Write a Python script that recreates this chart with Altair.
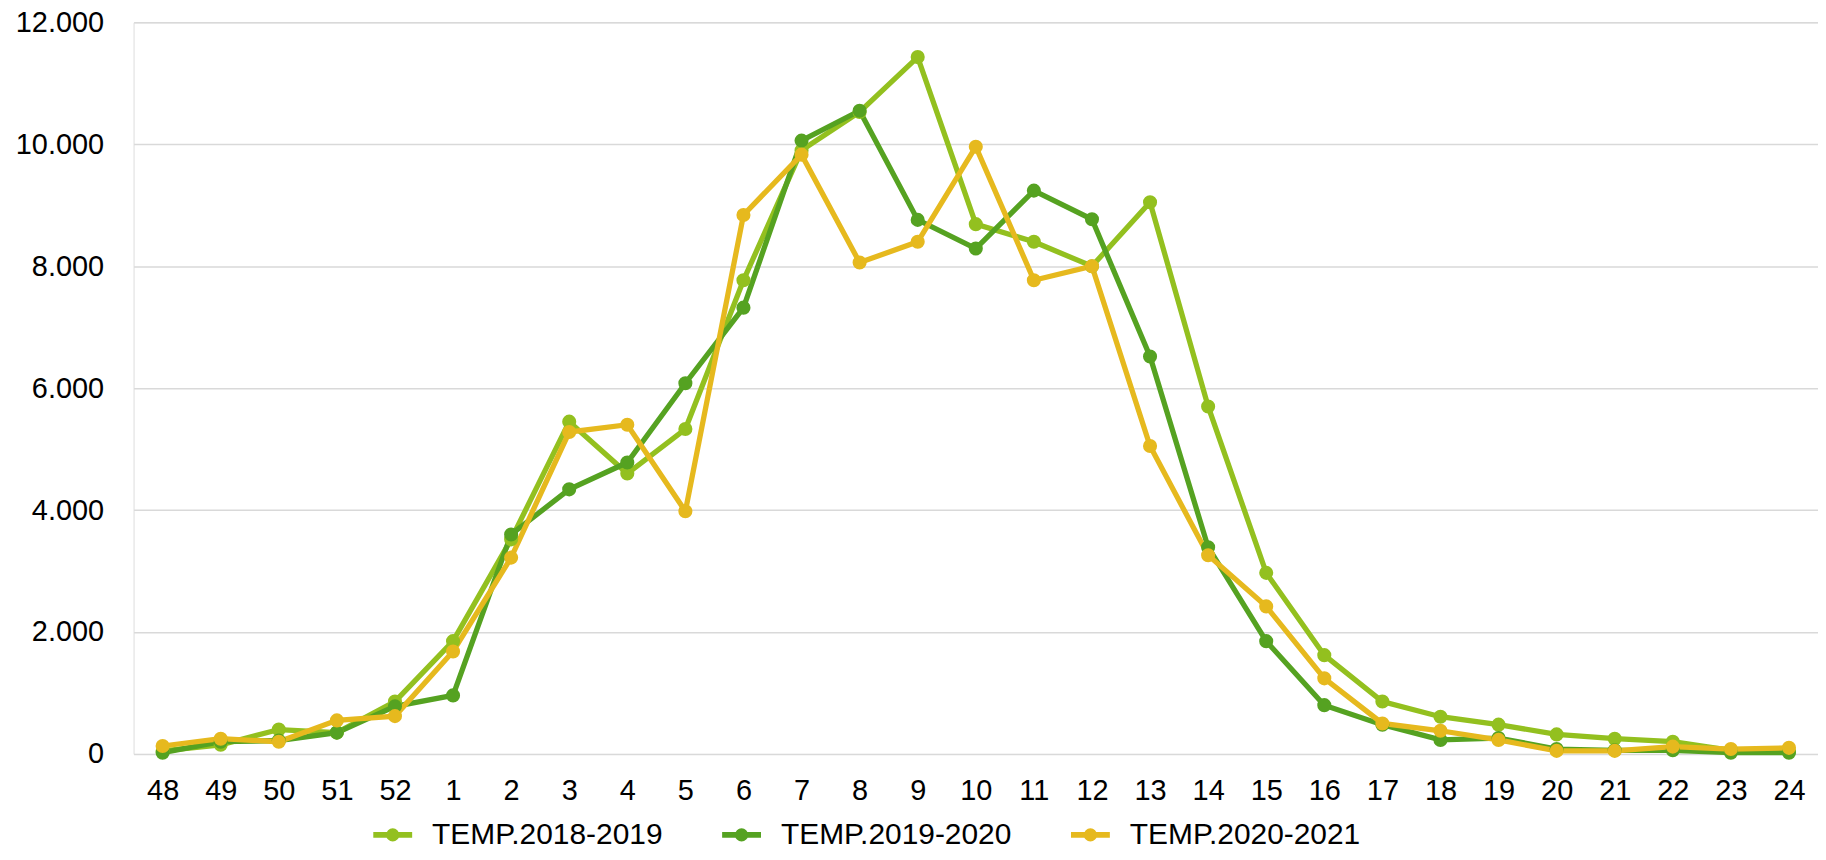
import altair as alt
import pandas as pd

weeks = ["48", "49", "50", "51", "52", "1", "2", "3", "4", "5", "6", "7", "8", "9", "10",
         "11", "12", "13", "14", "15", "16", "17", "18", "19", "20", "21", "22", "23", "24"]

series_names = ["TEMP.2018-2019", "TEMP.2019-2020", "TEMP.2020-2021"]

s2018 = [50, 150, 400, 350, 860, 1850, 3520, 5450, 4600, 5330, 7770, 9900, 10530, 11430, 8690,
         8400, 8000, 9050, 5700, 2970, 1620, 860, 610, 480, 320, 250, 200, 60, 50]
s2019 = [20, 200, 220, 350, 780, 960, 3600, 4340, 4780, 6080, 7320, 10060, 10550, 8760, 8290,
         9240, 8770, 6520, 3390, 1850, 800, 480, 230, 260, 80, 60, 60, 20, 20]
s2020 = [130, 250, 200, 550, 620, 1680, 3220, 5280, 5400, 3980, 8840, 9830, 8060, 8400, 9960,
         7770, 8000, 5050, 3260, 2420, 1240, 500, 380, 230, 50, 50, 120, 80, 100]

colors = ["#93C01F", "#55A221", "#E6B91E"]

rows = []
for name, vals in zip(series_names, [s2018, s2019, s2020]):
    for w, v in zip(weeks, vals):
        rows.append({"week": w, "value": v, "series": name})
df = pd.DataFrame(rows)

color_scale = alt.Scale(domain=series_names, range=colors)

FONT = "Liberation Sans"

x_enc = alt.X("week:N", sort=weeks, title=None,
              scale=alt.Scale(type="point", padding=0.5),
              axis=alt.Axis(labelAngle=0, ticks=False, domain=False, grid=False,
                            labelPadding=23, labelFontSize=29, labelFont=FONT,
                            labelColor="#000000"))
y_enc = alt.Y("value:Q", title=None,
              scale=alt.Scale(domain=[0, 12000], nice=False),
              axis=alt.Axis(values=[0, 2000, 4000, 6000, 8000, 10000, 12000],
                            labelExpr="replace(format(datum.value, ','), ',', '.')",
                            ticks=False, domain=False, grid=True, gridColor="#d9d9d9",
                            gridWidth=1.5, labelPadding=30, labelFontSize=29,
                            labelFont=FONT, labelColor="#000000"))

legend = alt.Legend(title=None, orient="none", legendX=245, legendY=800,
                    direction="horizontal",
                    symbolType="M-3.9,0L3.9,0M-0.71,0A0.71,0.71 0 1,1 0.71,0A0.71,0.71 0 1,1 -0.71,0Z",
                    symbolStrokeWidth=6,
                    labelFont=FONT, labelFontSize=30, labelColor="#000000",
                    labelOffset=24.5, columnPadding=47, labelLimit=400)

lines = alt.Chart(df).mark_line(strokeWidth=5.3).encode(
    x=x_enc, y=y_enc,
    color=alt.Color("series:N", scale=color_scale, legend=legend),
    detail="series:N",
)
points = alt.Chart(df).mark_circle(size=200, opacity=1).encode(
    x=x_enc, y=y_enc,
    color=alt.Color("series:N", scale=color_scale, legend=legend),
)

chart = alt.layer(lines, points).properties(
    width=1690, height=734,
    autosize=alt.AutoSizeParams(type="none"),
    padding={"left": 126, "top": 13, "right": 0, "bottom": 97},
).configure_view(stroke=None).configure(background="white")

chart.save("out.html", embed_options={"renderer": "svg", "actions": False})
